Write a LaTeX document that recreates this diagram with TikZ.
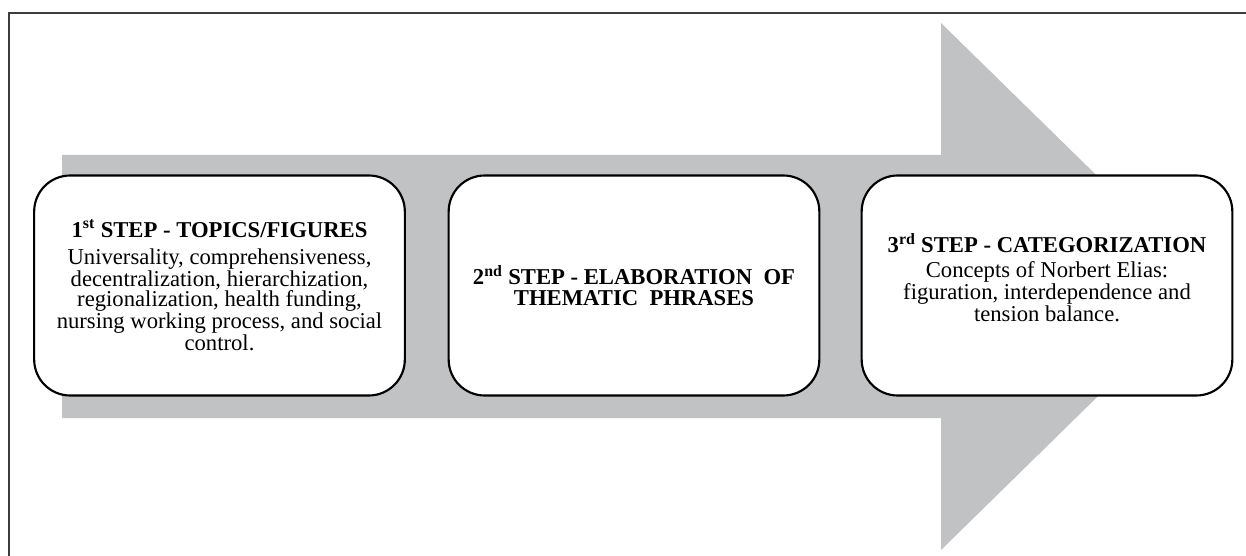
\documentclass[tikz,border=0pt]{standalone}
\usepackage{fontspec}
\setmainfont{Liberation Serif}
\usepackage{tikz}

\definecolor{shaftgray}{RGB}{193,194,196}
\definecolor{framegray}{RGB}{60,60,60}

\tikzset{
  stepbox/.style={draw=black, line width=1.6pt, fill=white,
    rounded corners=27pt, minimum width=278pt, minimum height=165pt,
    align=center, font=\fontsize{17}{15.4}\selectfont},
}

\begin{document}
\begin{tikzpicture}[x=0.75pt,y=-0.75pt]
\useasboundingbox (0,0) rectangle (1246,556);
\draw[framegray,line width=0.8pt] (1246,13)--(9,13)--(9,556);
\fill[shaftgray] (62,155)--(941,155)--(941,23)--(1210,286.5)
    --(941,550)--(941,418)--(62,418)--cycle;
\node[stepbox] (topics) at (219.5,285.5)
  {\textbf{1\textsuperscript{st} STEP - TOPICS/FIGURES}\\[5pt]
   Universality, comprehensiveness,\\
   decentralization, hierarchization,\\
   regionalization, health funding,\\
   nursing working process, and social\\
   control.};
\node[stepbox] (phrases) at (634,285.5)
  {\textbf{2\textsuperscript{nd} STEP - ELABORATION\ \ OF}\\
   \textbf{THEMATIC\ \ PHRASES}};
\node[stepbox] (categ) at (1047,285.5)
  {\textbf{3\textsuperscript{rd} STEP - CATEGORIZATION}\\[3pt]
   Concepts of Norbert Elias:\\
   figuration, interdependence and\\
   tension balance.\\[-3pt]\mbox{}};
\end{tikzpicture}
\end{document}
